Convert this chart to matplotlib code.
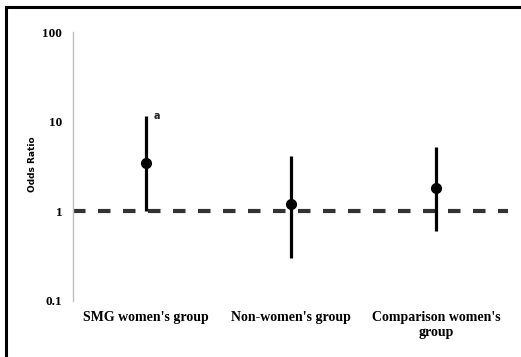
import matplotlib
matplotlib.use("Agg")
import matplotlib.pyplot as plt
from matplotlib.lines import Line2D

## Data
groups = ["SMG women's group", "Non-women's group", "Comparison women's\ngroup"]
odds = [3.5, 1.2, 1.8]
lower = [1.0, 0.3, 0.6]
upper = [11.5, 4.1, 5.2]
ytick_vals = [0.1, 1, 10, 100]
ytick_labels = ["0.1", "1", "10", "100"]

fig = plt.figure(figsize=(5.21, 3.57), dpi=100)
ax = fig.add_axes([0.141, 0.157, 0.835, 0.753])

xpos = [i + 0.5 for i in range(len(groups))]

# reference line at OR = 1
ax.axhline(1, color="#333333", lw=3, ls=(0, (3, 3)), zorder=1)

# confidence intervals and point estimates
for x, o, lo, hi in zip(xpos, odds, lower, upper):
    ax.plot([x, x], [lo, hi], color="black", lw=2.3, solid_capstyle="butt", zorder=2)
ax.plot(xpos, odds, "o", color="black", ms=7, zorder=3)
ax.text(xpos[0] + 0.055, upper[0], "a", fontsize=7, fontweight="bold",
        family="DejaVu Sans", ha="left", va="center", color="#222222")

ax.set_yscale("log")
ax.set_ylim(0.1, 100)
ax.set_xlim(0, 3)
ax.set_yticks(ytick_vals)
ax.set_yticklabels(ytick_labels, family="Liberation Serif", fontweight="bold", fontsize=9.5)
ax.minorticks_off()
ax.tick_params(axis="y", length=0, pad=8)
ax.set_xticks(xpos)
ax.set_xticklabels(groups, family="Liberation Serif", fontweight="bold", fontsize=10,
                   linespacing=1.25)
ax.tick_params(axis="x", length=0, pad=7)

for s in ["top", "right", "bottom"]:
    ax.spines[s].set_visible(False)
ax.spines["left"].set_color("#bfbfbf")
ax.spines["left"].set_linewidth(1)

fig.text(0.063, 0.54, "Odds Ratio", rotation=90, ha="center", va="center",
         fontsize=6.5, fontweight="bold", family="DejaVu Sans")

# frame lines (top and left visible in the crop)
fig.add_artist(Line2D([5.5 / 521, 5.5 / 521], [0, 1 - 7 / 357], transform=fig.transFigure,
                      color="black", lw=2.2))
fig.add_artist(Line2D([5.5 / 521, 1], [1 - 7 / 357, 1 - 7 / 357], transform=fig.transFigure,
                      color="black", lw=2.2))

fig.savefig("out.png", dpi=100)
